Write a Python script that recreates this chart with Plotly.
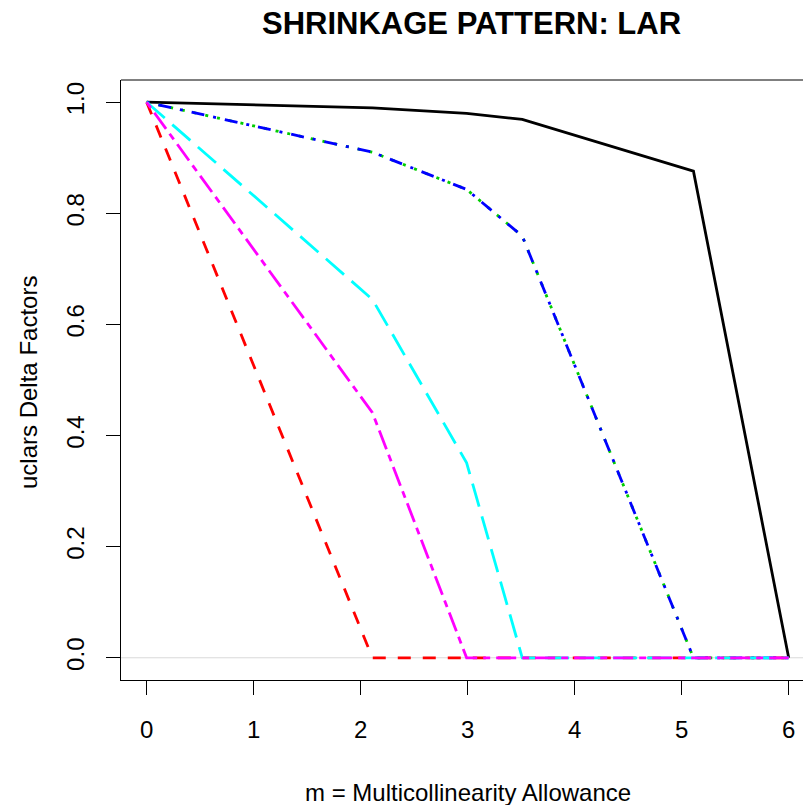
import plotly.graph_objects as go

# ---- data ----
m_values = [0.0, 2.11, 2.99, 3.51, 5.11, 6.0]
black_series = [1.0, 0.99, 0.98, 0.969, 0.876, 0.0]
red_series = [1.0, 0.0, 0.0, 0.0, 0.0, 0.0]
green_series = [1.0, 0.91, 0.843, 0.759, 0.0, 0.0]
blue_series = [1.0, 0.91, 0.843, 0.759, 0.0, 0.0]
cyan_series = [1.0, 0.645, 0.351, 0.0, 0.0, 0.0]
magenta_series = [1.0, 0.441, 0.0, 0.0, 0.0, 0.0]
x_ticks = [0, 1, 2, 3, 4, 5, 6]
y_ticks = [0.0, 0.2, 0.4, 0.6, 0.8, 1.0]
y_tick_labels = ["0.0", "0.2", "0.4", "0.6", "0.8", "1.0"]

title_text = "SHRINKAGE PATTERN: LAR"
x_title = "m = Multicollinearity Allowance"
y_title = "uclars Delta Factors"

W, H = 803, 805
L, R, T, B = 121, 0, 80, 125
PW, PH = W - L - R, H - T - B
FONT = "Liberation Sans, Arial, sans-serif"

def px_to_paper_x(px):
    return (px - L) / PW

def py_to_paper_y(py):
    return (H - B - py) / PH

fig = go.Figure()

# gray reference line at 0
fig.add_trace(go.Scatter(x=[-0.24, 6.3], y=[0, 0], mode="lines",
                         line=dict(color="#d9d9d9", width=1), hoverinfo="skip"))

series = [
    (black_series, "black", "solid"),
    (red_series, "#FF0000", "13px,12px"),
    (green_series, "#00CD00", "3px,9px"),
    (blue_series, "#0000FF", "3px,9px,13px,9px"),
    (cyan_series, "#00FFFF", "24px,10px"),
    (magenta_series, "#FF00FF", "7px,6px,20px,6px"),
]
for ys, col, dash in series:
    fig.add_trace(go.Scatter(x=m_values, y=ys, mode="lines",
                             line=dict(color=col, width=2.8, dash=dash)))

axis_common = dict(showgrid=False, zeroline=False, showline=True, linecolor="black",
                   linewidth=1, ticks="outside", ticklen=14, tickwidth=1,
                   tickcolor="black", tickfont=dict(family=FONT, size=24, color="black"))

fig.update_layout(
    width=W, height=H,
    margin=dict(l=L, r=R, t=T, b=B, pad=0),
    paper_bgcolor="white", plot_bgcolor="white",
    showlegend=False,
    xaxis=dict(range=[-0.24, -0.24 + PW / 107.0], tickvals=x_ticks, ticklabelstandoff=14,
               **axis_common),
    yaxis=dict(range=[-0.04, 1.04], tickvals=y_ticks, ticktext=y_tick_labels,
               tickangle=-90, ticklabelstandoff=12, **axis_common),
    shapes=[dict(type="line", xref="paper", yref="paper", x0=0, x1=1.02, y0=1, y1=1,
                 line=dict(color="black", width=1))],
    annotations=[
        dict(text="<b>%s</b>" % title_text, xref="paper", yref="paper",
             x=px_to_paper_x(471.5), y=py_to_paper_y(23), xanchor="center", yanchor="middle",
             showarrow=False, font=dict(family=FONT, size=31, color="black")),
        dict(text=x_title, xref="paper", yref="paper",
             x=px_to_paper_x(467.5), y=py_to_paper_y(792), xanchor="center", yanchor="middle",
             showarrow=False, font=dict(family=FONT, size=24, color="black")),
        dict(text=y_title, xref="paper", yref="paper",
             x=px_to_paper_x(28), y=py_to_paper_y(383), xanchor="center", yanchor="middle",
             textangle=-90, showarrow=False, font=dict(family=FONT, size=24, color="black")),
    ],
)

fig.write_html("out.html")
